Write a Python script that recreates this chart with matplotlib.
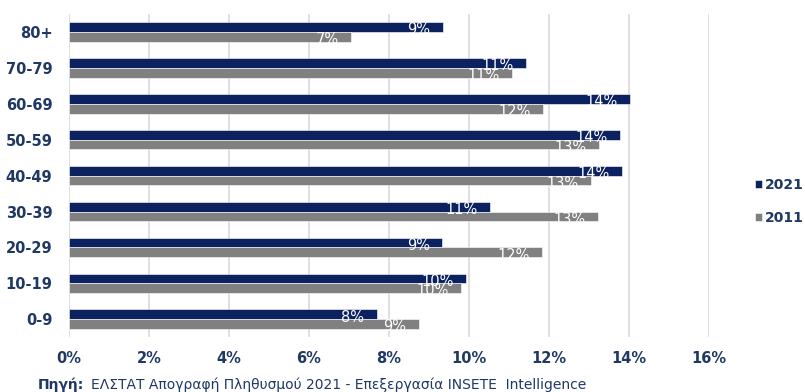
import matplotlib.pyplot as plt
import numpy as np

# age groups, bottom to top
groups = ['0-9', '10-19', '20-29', '30-39', '40-49', '50-59', '60-69', '70-79', '80+']
share_2021 = [7.7, 9.93, 9.33, 10.53, 13.83, 13.78, 14.03, 11.43, 9.35]
share_2011 = [8.75, 9.8, 11.83, 13.23, 13.05, 13.25, 11.85, 11.08, 7.05]
x_ticks = [0, 2, 4, 6, 8, 10, 12, 14, 16]

navy = '#0b2160'
grey = '#808080'
text_col = '#1f3864'

fig = plt.figure(figsize=(8.05, 3.92), dpi=100)
ax = fig.add_axes([0.0857, 0.14, 0.795, 0.824])

y = np.arange(len(groups))
h = 0.27
b21 = ax.barh(y + h / 2, share_2021, height=h, color=navy, edgecolor='white',
              linewidth=0.4, label='2021', zorder=3)
b11 = ax.barh(y - h / 2, share_2011, height=h, color=grey, edgecolor='white',
              linewidth=0.4, label='2011', zorder=3)

# value labels at the inside end of each bar
for bars, vals in ((b21, share_2021), (b11, share_2011)):
    for bar, v in zip(bars, vals):
        cy = bar.get_y() + bar.get_height() / 2
        ax.annotate(f'{v:.0f}%', xy=(v, cy), xytext=(-9, -2),
                    textcoords='offset points', ha='right', va='center',
                    color='white', fontsize=10.5, zorder=4)

ax.set_xlim(0, 16)
ax.set_ylim(-0.5, len(groups) - 0.5)
ax.set_xticks(x_ticks)
ax.set_xticklabels([f'{t}%' for t in x_ticks], fontweight='bold', color=text_col, fontsize=10.5)
ax.set_yticks(y)
ax.set_yticklabels(groups, fontweight='bold', color=text_col, fontsize=10.5)
ax.tick_params(axis='x', length=0, pad=10)
ax.tick_params(axis='y', length=0, pad=12)
ax.grid(axis='x', color='#d9d9d9', linewidth=1.2, zorder=0)
for s in ax.spines.values():
    s.set_visible(False)

leg = ax.legend(handles=[b21, b11], loc='center left', bbox_to_anchor=(1.061, 0.42),
                frameon=False, handlelength=0.5, handleheight=0.5, handletextpad=0.25,
                labelspacing=1.4, borderpad=0, prop={'weight': 'bold', 'size': 10})
for t in leg.get_texts():
    t.set_color(text_col)

fig.text(0.047, 0.008, 'Πηγή:', fontweight='bold', color=text_col, fontsize=10)
fig.text(0.113, 0.008, 'ΕΛΣΤΑΤ Απογραφή Πληθυσμού 2021 - Επεξεργασία INSETE  Intelligence',
         color=text_col, fontsize=10)

fig.savefig('out.png', dpi=100)
